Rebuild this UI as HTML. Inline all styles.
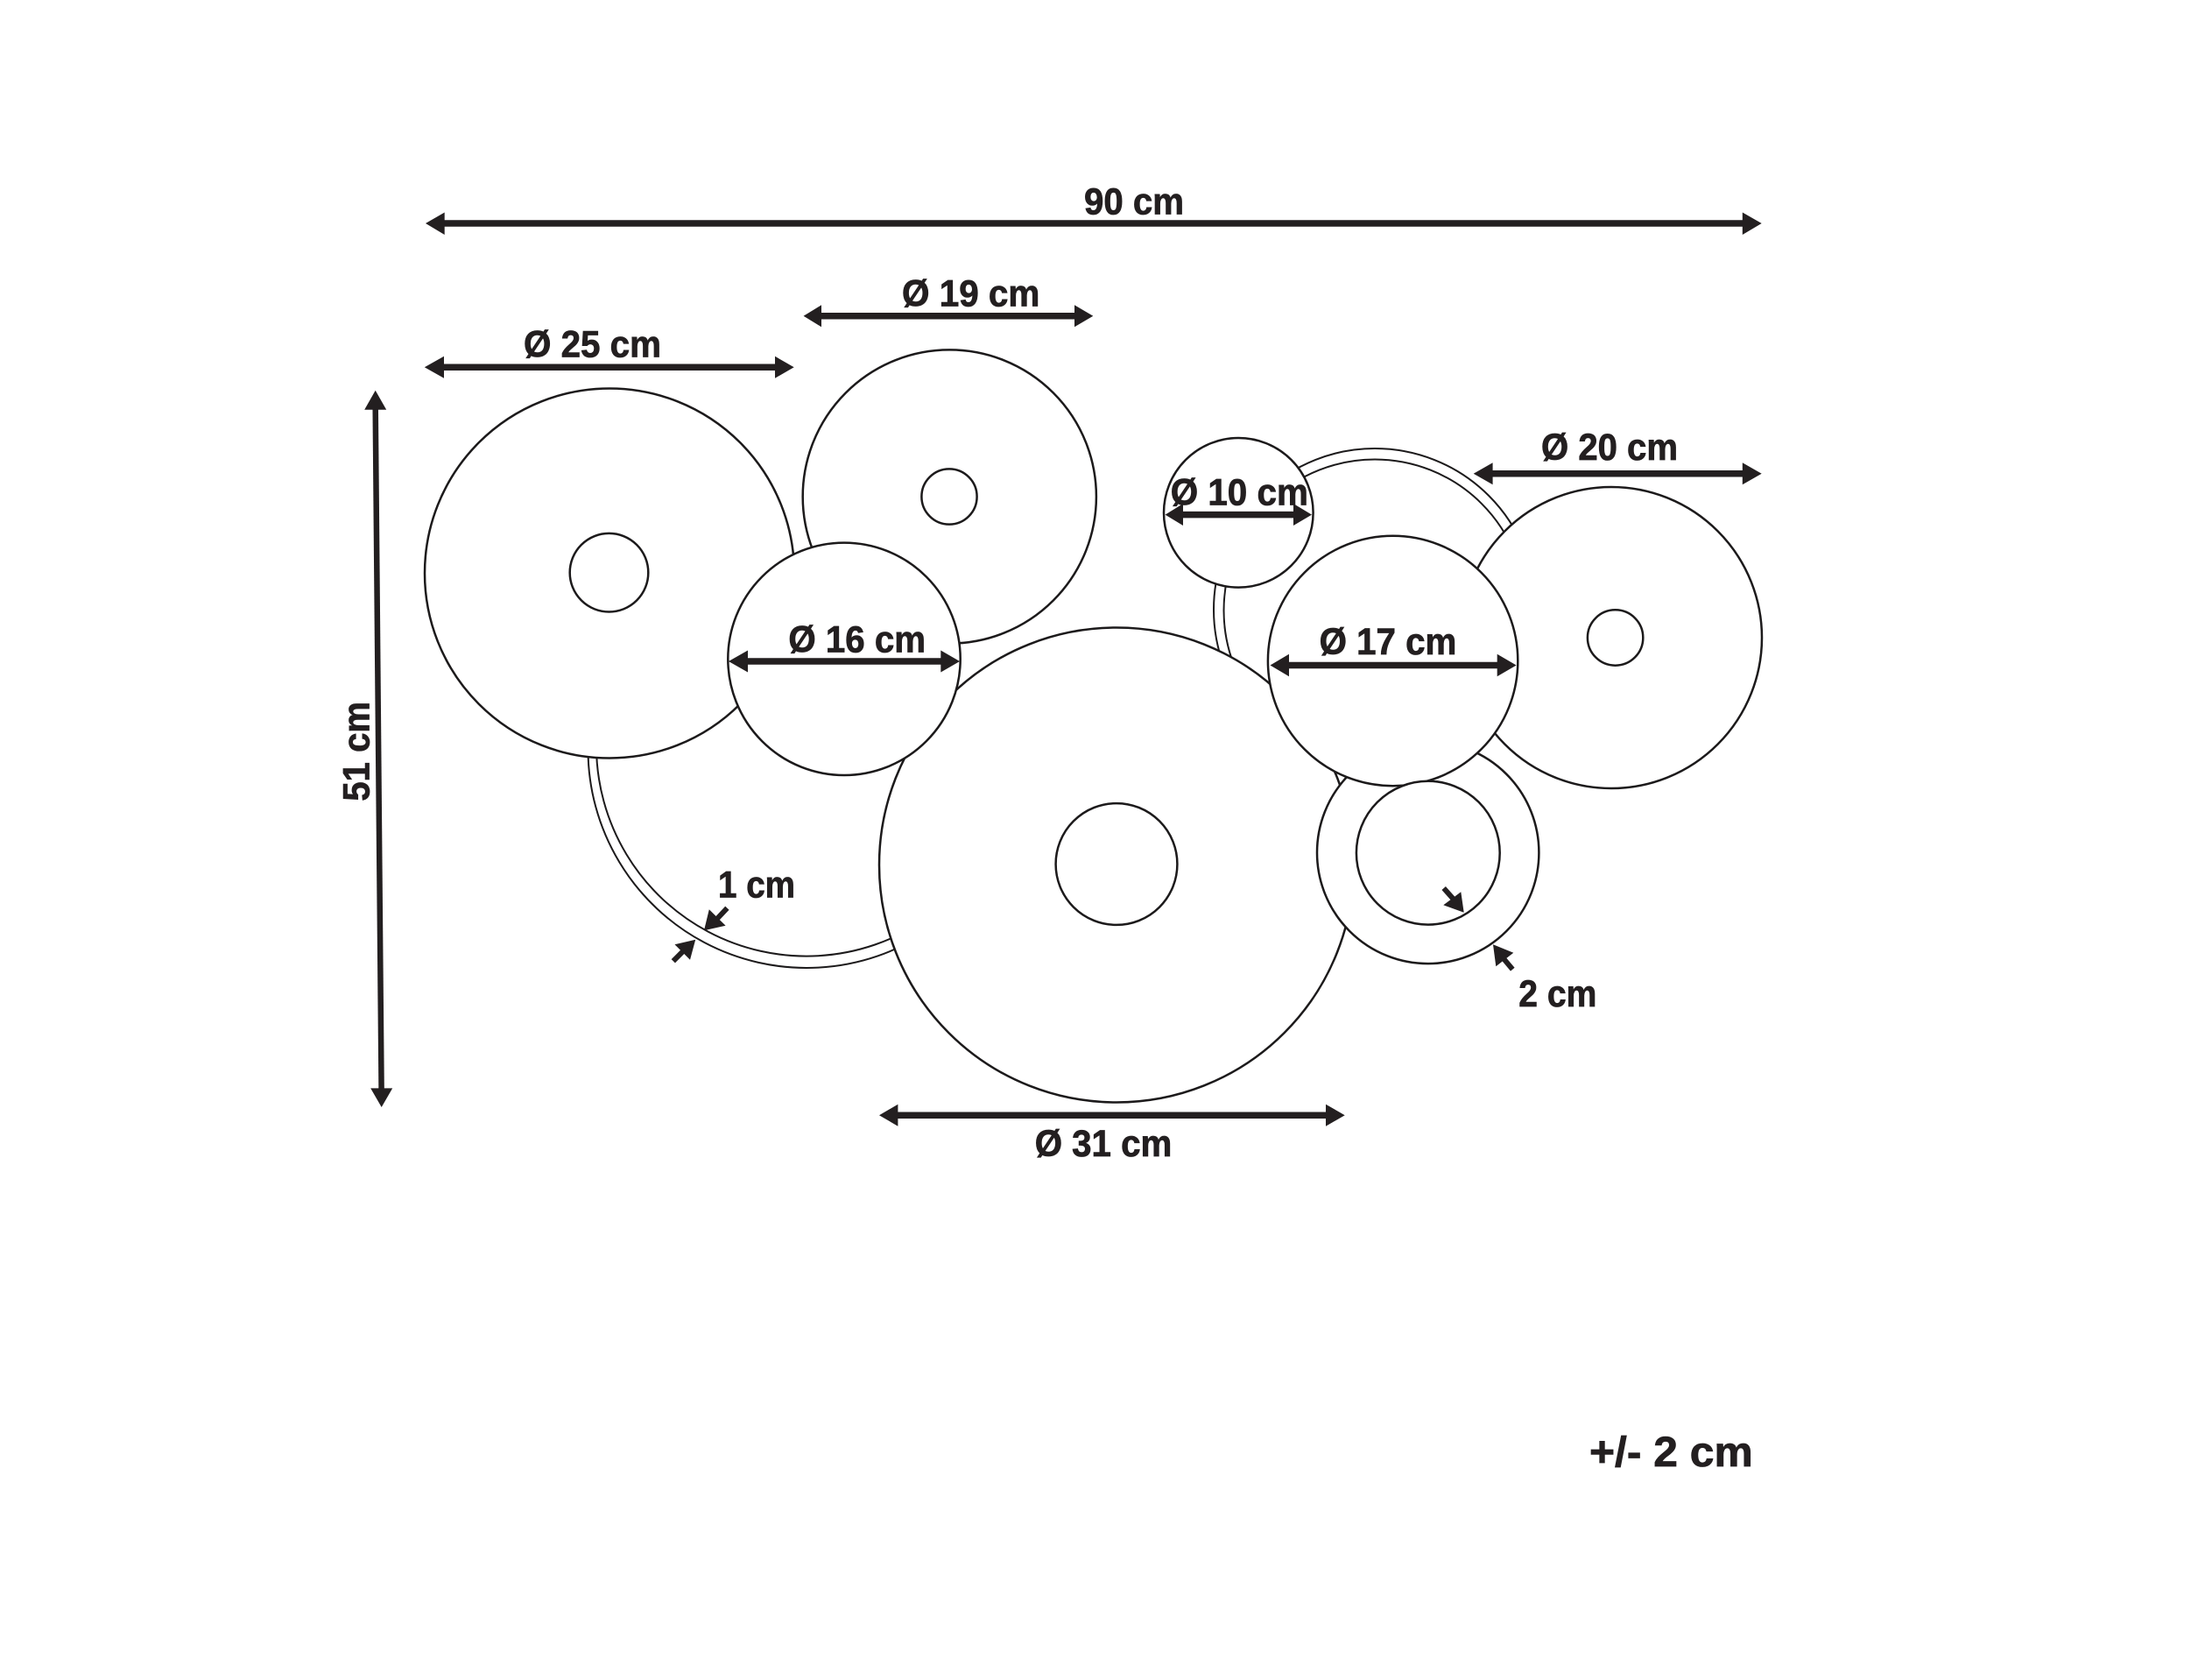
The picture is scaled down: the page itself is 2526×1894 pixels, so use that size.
<!DOCTYPE html>
<html lang="en">
<head>
<meta charset="utf-8">
<title>Wall decor dimensions</title>
<style>
html,body{margin:0;padding:0;background:#fff}
svg{display:block}
text{font-family:"Liberation Sans",sans-serif;font-weight:700;fill:#231f20;stroke:#231f20;stroke-width:.8;font-size:43px}
.c{fill:#fff;stroke:#1c1a1b;stroke-width:2.5}
.r{fill:none;stroke:#1c1a1b;stroke-width:2}
.s{stroke:#231f20;stroke-width:7.5;fill:none}
.h{fill:#231f20;stroke:none}
</style>
</head>
<body>
<svg xmlns="http://www.w3.org/2000/svg" width="2526" height="1894" viewBox="0 0 2526 1894">
<rect width="2526" height="1894" fill="#fff"/>

<!-- lower-left ring -->
<path class="r" d="M671.5 855.5A249.5 249.5 0 0 0 1061 1062"/>
<path class="r" d="M681 851.7A240 240 0 0 0 1056 1050"/>
<!-- upper-right ring -->
<circle class="r" style="fill:#fff" cx="1570" cy="696" r="184"/>
<circle class="r" style="fill:#fff" cx="1570" cy="697" r="172.5"/>

<!-- discs -->
<circle class="c" cx="1084.3" cy="567" r="167.6"/>
<circle class="c" cx="1084" cy="567" r="31.6"/>
<circle class="c" cx="696" cy="654.5" r="211"/>
<circle class="c" cx="695.5" cy="653.7" r="44.8"/>
<circle class="c" cx="1275" cy="987.5" r="271"/>
<circle class="c" cx="1275" cy="986.5" r="69.4"/>
<circle class="c" cx="964" cy="752.3" r="132.7"/>
<circle class="c" cx="1840" cy="728" r="172"/>
<circle class="c" cx="1844.6" cy="728" r="31.7"/>
<circle class="c" cx="1414.3" cy="585.3" r="85.3"/>
<circle class="c" cx="1630.7" cy="973.4" r="126.7"/>
<circle class="c" cx="1590.6" cy="754.5" r="142.7"/>
<circle class="c" cx="1630.8" cy="973.7" r="81.9"/>

<!-- 90 cm -->
<line class="s" x1="505" y1="255" x2="1992" y2="255"/>
<polygon class="h" points="486,255 507.7,242.5 507.7,268"/>
<polygon class="h" points="2011.7,255 1989.8,242.5 1989.8,268"/>
<text x="1238" y="244.7" textLength="114" lengthAdjust="spacingAndGlyphs">90 cm</text>

<!-- 25 -->
<line class="s" x1="505" y1="419.3" x2="887" y2="419.3"/>
<polygon class="h" points="484.8,419.3 507,406.8 507,431.8"/>
<polygon class="h" points="906.7,419.3 885,406.8 885,431.8"/>
<text x="598" y="407.7" textLength="157" lengthAdjust="spacingAndGlyphs">Ø 25 cm</text>

<!-- 19 -->
<line class="s" x1="936" y1="360.8" x2="1229" y2="360.8"/>
<polygon class="h" points="917.6,360.8 938,348.3 938,373.3"/>
<polygon class="h" points="1248.3,360.8 1227,348.3 1227,373.3"/>
<text x="1030" y="349.6" textLength="157.4" lengthAdjust="spacingAndGlyphs">Ø 19 cm</text>

<!-- 16 -->
<line class="s" x1="852" y1="755" x2="1076" y2="755"/>
<polygon class="h" points="832,755 854,742.5 854,767.5"/>
<polygon class="h" points="1096,755 1074.3,742.5 1074.3,767.5"/>
<text x="900.4" y="744.7" textLength="156.6" lengthAdjust="spacingAndGlyphs">Ø 16 cm</text>

<!-- 10 -->
<line class="s" x1="1349" y1="587.6" x2="1479" y2="587.6"/>
<polygon class="h" points="1330.6,587.6 1351,575 1351,600"/>
<polygon class="h" points="1498,587.6 1477,575 1477,600"/>
<text x="1336.7" y="576.4" textLength="157.2" lengthAdjust="spacingAndGlyphs">Ø 10 cm</text>

<!-- 17 -->
<line class="s" x1="1470" y1="759.5" x2="1712" y2="759.5"/>
<polygon class="h" points="1450.5,759.5 1472,746.8 1472,772.2"/>
<polygon class="h" points="1731.6,759.5 1709.7,746.8 1709.7,772.2"/>
<text x="1506.6" y="747" textLength="156.7" lengthAdjust="spacingAndGlyphs">Ø 17 cm</text>

<!-- 20 -->
<line class="s" x1="1702" y1="540.7" x2="1992" y2="540.7"/>
<polygon class="h" points="1682.7,540.7 1704.6,528.2 1704.6,553.2"/>
<polygon class="h" points="2011.7,540.7 1989.8,528.2 1989.8,553.2"/>
<text x="1760" y="525" textLength="156" lengthAdjust="spacingAndGlyphs">Ø 20 cm</text>

<!-- 31 -->
<line class="s" x1="1023" y1="1273.2" x2="1516" y2="1273.2"/>
<polygon class="h" points="1004,1273.2 1025.4,1260.7 1025.4,1285.7"/>
<polygon class="h" points="1535.7,1273.2 1514,1260.7 1514,1285.7"/>
<text x="1181.7" y="1320" textLength="156.6" lengthAdjust="spacingAndGlyphs">Ø 31 cm</text>

<!-- 51 cm -->
<line class="s" style="stroke-width:6.5" x1="428.7" y1="465" x2="435.6" y2="1245"/>
<polygon class="h" points="428.7,445.7 416.2,467.7 441.2,467.7"/>
<polygon class="h" points="435.7,1264 423.2,1242.4 448.2,1242.4"/>
<text transform="translate(421.7 914.6) rotate(-90)" x="0" y="0" textLength="113.6" lengthAdjust="spacingAndGlyphs">51 cm</text>

<!-- 1 cm -->
<text x="820" y="1024.3" textLength="88" lengthAdjust="spacingAndGlyphs">1 cm</text>
<line class="s" style="stroke-width:6" x1="830.4" y1="1036.7" x2="816" y2="1052"/>
<polygon class="h" points="804,1062.3 809.8,1038.3 828.6,1056.7"/>
<line class="s" style="stroke-width:6" x1="768.8" y1="1097.3" x2="782" y2="1084"/>
<polygon class="h" points="794.2,1072.7 770.5,1078.3 788,1095.7"/>

<!-- 2 cm -->
<text x="1734.3" y="1149" textLength="89" lengthAdjust="spacingAndGlyphs">2 cm</text>
<line class="s" style="stroke-width:6" x1="1648.7" y1="1014" x2="1662" y2="1029"/>
<polygon class="h" points="1671.7,1041.7 1668.3,1018.3 1648.3,1033.3"/>
<line class="s" style="stroke-width:6" x1="1727.3" y1="1106.7" x2="1715" y2="1092"/>
<polygon class="h" points="1705,1078.3 1728.3,1087.7 1708.3,1103.3"/>

<!-- tolerance -->
<text x="1815" y="1674" style="font-size:48px" textLength="186.7" lengthAdjust="spacingAndGlyphs">+/- 2 cm</text>
</svg>
</body>
</html>
